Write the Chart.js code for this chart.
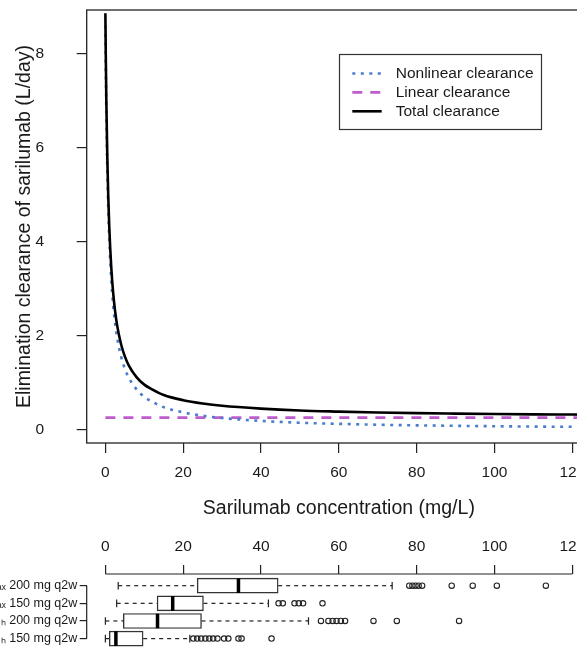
<!DOCTYPE html>
<html>
<head>
<meta charset="utf-8">
<script src="https://cdn.jsdelivr.net/npm/chart.js@4.4.0/dist/chart.umd.min.js"></script>
<style>
  html, body { margin: 0; padding: 0; background: #fff; overflow: hidden; }
  #wrap { position: relative; width: 577px; height: 653px; overflow: hidden; }
  #top { position: absolute; left: 0; top: 0; }
  #box { position: absolute; left: 0; top: 530px; }
</style>
</head>
<body>
<div id="wrap">
  <canvas id="top" width="600" height="530"></canvas>
  <canvas id="box" width="600" height="123"></canvas>
</div>
<script>
// Clearance curves (L/day against mg/L)
const conc = [0, 0.1, 0.25, 0.5, 0.75, 1, 1.5, 2, 2.5, 3, 4, 5, 6, 8, 10, 12, 15, 20, 25, 30,
              40, 50, 60, 70, 80, 90, 100, 110, 120, 125];
const nonlinearCl = [8.59, 7.73, 6.71, 5.51, 4.67, 4.05, 3.21, 2.65, 2.26, 1.97, 1.57, 1.30, 1.11, 0.86, 0.70,
                     0.60, 0.48, 0.37, 0.30, 0.25, 0.19, 0.15, 0.127, 0.108, 0.095, 0.085, 0.076, 0.069, 0.064, 0.061];
const totalCl = [8.85, 7.99, 6.97, 5.77, 4.93, 4.31, 3.47, 2.91, 2.52, 2.23, 1.83, 1.56, 1.37, 1.12, 0.96,
                 0.86, 0.74, 0.63, 0.56, 0.51, 0.45, 0.41, 0.387, 0.368, 0.355, 0.345, 0.336, 0.329, 0.324, 0.321];
const linearConc = [0, 125];
const linearCl = [0.26, 0.26];

const xTicks = [0, 20, 40, 60, 80, 100, 120];
const yTicks = [0, 2, 4, 6, 8];

// Boxplots of observed concentrations (mg/L)
const rowLabels = ['Cₘₐₓ 200 mg q2w', 'Cₘₐₓ 150 mg q2w', 'Cₜᵣₒᵤgₕ 200 mg q2w', 'Cₜᵣₒᵤgₕ 150 mg q2w'];
const rows = [1, 2, 3, 4];
const whiskerLow = [3.3, 2.9, 0, 0];
const q1 = [23.6, 13.3, 4.6, 1.0];
const medians = [34.2, 17.3, 13.4, 2.7];
const q3 = [44.4, 25.2, 24.7, 9.7];
const whiskerHigh = [73.7, 41.9, 52.2, 21.7];
const outliers = [
  [78.1, 78.9, 79.7, 80.5, 81.4, 89.0, 94.4, 100.6, 113.2],
  [44.5, 45.6, 48.6, 49.7, 50.8, 55.8],
  [55.4, 57.3, 58.4, 59.4, 60.5, 61.6, 68.9, 74.9, 90.9],
  [22.6, 23.6, 24.6, 25.7, 26.7, 27.7, 28.8, 30.5, 31.6, 34.2, 35.0, 42.7]
];

const FONT = "'Liberation Sans', Arial, sans-serif";
Chart.defaults.font.family = FONT;
Chart.defaults.color = '#1a1a1a';
const xMin = -4.8, xMax = 124.8;
const INK = '#222';

const toPoints = (xs, ys) => xs.map((x, i) => ({ x: x, y: ys[i] }));
const fixTicks = vals => s => { s.ticks = vals.map(v => ({ value: v })); };
// fixed axis size, and no extra room for half labels
const fitWidth = w => s => { s.width = w; s.paddingTop = 0; s.paddingBottom = 0; };
const fitHeight = h => s => { s.height = h; s.paddingLeft = 0; s.paddingRight = 0; };

// box round the plot region
const framePlugin = {
  id: 'frame',
  afterDatasetsDraw(chart) {
    const a = chart.chartArea, ctx = chart.ctx;
    ctx.save();
    ctx.strokeStyle = INK;
    ctx.lineWidth = 1.3;
    ctx.strokeRect(a.left, a.top, a.right - a.left, a.bottom - a.top);
    ctx.restore();
  }
};

// framed legend inside the plot, styled from the datasets
const legendPlugin = {
  id: 'boxLegend',
  afterDraw(chart) {
    const ctx = chart.ctx;
    ctx.save();
    ctx.strokeStyle = '#333';
    ctx.lineWidth = 1.2;
    ctx.strokeRect(339.5, 54.5, 202, 75);
    [1, 2, 0].forEach((di, k) => {
      const ds = chart.data.datasets[di];
      const y = 73.5 + k * 18.9;
      ctx.strokeStyle = ds.borderColor;
      ctx.lineWidth = ds.borderWidth;
      ctx.setLineDash(ds.borderDash || []);
      ctx.beginPath();
      ctx.moveTo(352.3, y);
      ctx.lineTo(381.7, y);
      ctx.stroke();
      ctx.setLineDash([]);
      ctx.fillStyle = '#1a1a1a';
      ctx.font = '15.5px ' + FONT;
      ctx.textBaseline = 'middle';
      ctx.fillText(ds.label, 395.7, y);
    });
    ctx.restore();
  }
};

// R style axis lines that only run between the first and last tick
const axisLinePlugin = {
  id: 'axisLines',
  afterDraw(chart) {
    const { ctx, chartArea: a } = chart;
    const x = chart.scales.x, y = chart.scales.y;
    ctx.save();
    ctx.strokeStyle = INK;
    ctx.lineWidth = 1.2;
    ctx.beginPath();
    ctx.moveTo(x.getPixelForValue(xTicks[0]), a.top);
    ctx.lineTo(x.getPixelForValue(xTicks[xTicks.length - 1]), a.top);
    ctx.moveTo(a.left, y.getPixelForValue(rows[0]));
    ctx.lineTo(a.left, y.getPixelForValue(rows[rows.length - 1]));
    ctx.stroke();
    ctx.restore();
  }
};

const curveChart = new Chart(document.getElementById('top'), {
  type: 'scatter',
  data: {
    datasets: [
      { label: 'Total clearance', data: toPoints(conc, totalCl), showLine: true, borderColor: '#000',
        borderWidth: 2.6, pointRadius: 0, cubicInterpolationMode: 'monotone', order: 0 },
      { label: 'Nonlinear clearance', data: toPoints(conc, nonlinearCl), showLine: true, borderColor: '#4a7dcb',
        borderWidth: 2.6, borderDash: [3, 5.5], pointRadius: 0, cubicInterpolationMode: 'monotone', order: 1 },
      { label: 'Linear clearance', data: toPoints(linearConc, linearCl), showLine: true, borderColor: '#bf5ccc',
        borderWidth: 2.6, borderDash: [10, 8], pointRadius: 0, order: 2 }
    ]
  },
  options: {
    responsive: false,
    animation: false,
    layout: { autoPadding: false, padding: { top: 10, right: 9, left: 0, bottom: 0 } },
    plugins: { legend: { display: false }, tooltip: { enabled: false } },
    scales: {
      x: {
        type: 'linear', min: xMin, max: xMax,
        afterBuildTicks: fixTicks(xTicks),
        afterFit: fitHeight(87),
        grid: { drawOnChartArea: false, tickLength: 10, color: INK, lineWidth: 1.2 },
        border: { display: false },
        ticks: { padding: 10, font: { size: 15.5 }, maxRotation: 0, autoSkip: false },
        title: { display: true, text: 'Sarilumab concentration (mg/L)', font: { size: 19.5 },
                 padding: { top: 0, bottom: 10 } }
      },
      y: {
        type: 'linear', min: -0.28, max: 8.92,
        afterBuildTicks: fixTicks(yTicks),
        afterFit: fitWidth(86.7),
        grid: { drawOnChartArea: false, tickLength: 10, color: INK, lineWidth: 1.2 },
        border: { display: false },
        ticks: { padding: 32.7, font: { size: 15.5 } },
        title: { display: true, text: 'Elimination clearance of sarilumab (L/day)', font: { size: 19.5 },
                 padding: { top: 13.3, bottom: 0 } }
      }
    }
  },
  plugins: [framePlugin, legendPlugin]
});

// boxplot panel
const boxSets = [];
boxSets.push({ type: 'scatter', data: outliers.flatMap((arr, i) => arr.map(v => ({ x: v, y: rows[i] }))),
  pointStyle: 'circle', pointRadius: 2.7, pointBorderColor: INK, pointBorderWidth: 1.1,
  pointBackgroundColor: 'rgba(255,255,255,0)', borderColor: INK, order: 0 });
boxSets.push({ type: 'scatter', data: rows.flatMap((r, i) => [{ x: whiskerLow[i], y: r }, { x: whiskerHigh[i], y: r }]),
  pointStyle: 'line', pointRotation: 90, pointRadius: 3.8, pointBorderColor: INK, pointBorderWidth: 1.2,
  borderColor: INK, order: 1 });
boxSets.push({ type: 'scatter', data: rows.map((r, i) => ({ x: medians[i], y: r })),
  pointStyle: 'line', pointRotation: 90, pointRadius: 7.3, pointBorderColor: '#000', pointBorderWidth: 3.5,
  borderColor: '#000', order: 2 });
boxSets.push({ type: 'bar', indexAxis: 'y', data: rows.map((r, i) => ({ y: r, x: [q1[i], q3[i]] })),
  backgroundColor: '#fff', borderColor: '#333', borderWidth: 1.4, borderSkipped: false, barThickness: 15, order: 3 });
rows.forEach((r, i) => {
  boxSets.push({ type: 'line', data: [{ x: whiskerLow[i], y: r }, { x: q1[i], y: r }],
    borderColor: INK, borderWidth: 1.2, borderDash: [4, 4], pointRadius: 0, order: 4 });
  boxSets.push({ type: 'line', data: [{ x: q3[i], y: r }, { x: whiskerHigh[i], y: r }],
    borderColor: INK, borderWidth: 1.2, borderDash: [4, 4], pointRadius: 0, order: 4 });
});

const boxChart = new Chart(document.getElementById('box'), {
  type: 'scatter',
  data: { datasets: boxSets },
  options: {
    responsive: false,
    animation: false,
    layout: { autoPadding: false, padding: { top: 0, right: 9, left: 0, bottom: 0 } },
    plugins: { legend: { display: false }, tooltip: { enabled: false } },
    scales: {
      x: {
        type: 'linear', position: 'top', min: xMin, max: xMax, offset: false,
        afterBuildTicks: fixTicks(xTicks),
        afterFit: fitHeight(44),
        grid: { drawOnChartArea: false, tickLength: 9, color: INK, lineWidth: 1.2, offset: false },
        border: { display: false },
        ticks: { padding: 9.3, font: { size: 15.5 }, maxRotation: 0, autoSkip: false }
      },
      y: {
        type: 'linear', reverse: true, min: 0.337, max: 4.816, offset: false,
        afterBuildTicks: fixTicks(rows),
        afterFit: fitWidth(86.7),
        grid: { drawOnChartArea: false, tickLength: 7, color: INK, lineWidth: 1.2, offset: false },
        border: { display: false },
        ticks: { padding: 2.4, font: { size: 12.5 }, autoSkip: false, callback: v => rowLabels[v - 1] }
      }
    }
  },
  plugins: [axisLinePlugin]
});
</script>
</body>
</html>
